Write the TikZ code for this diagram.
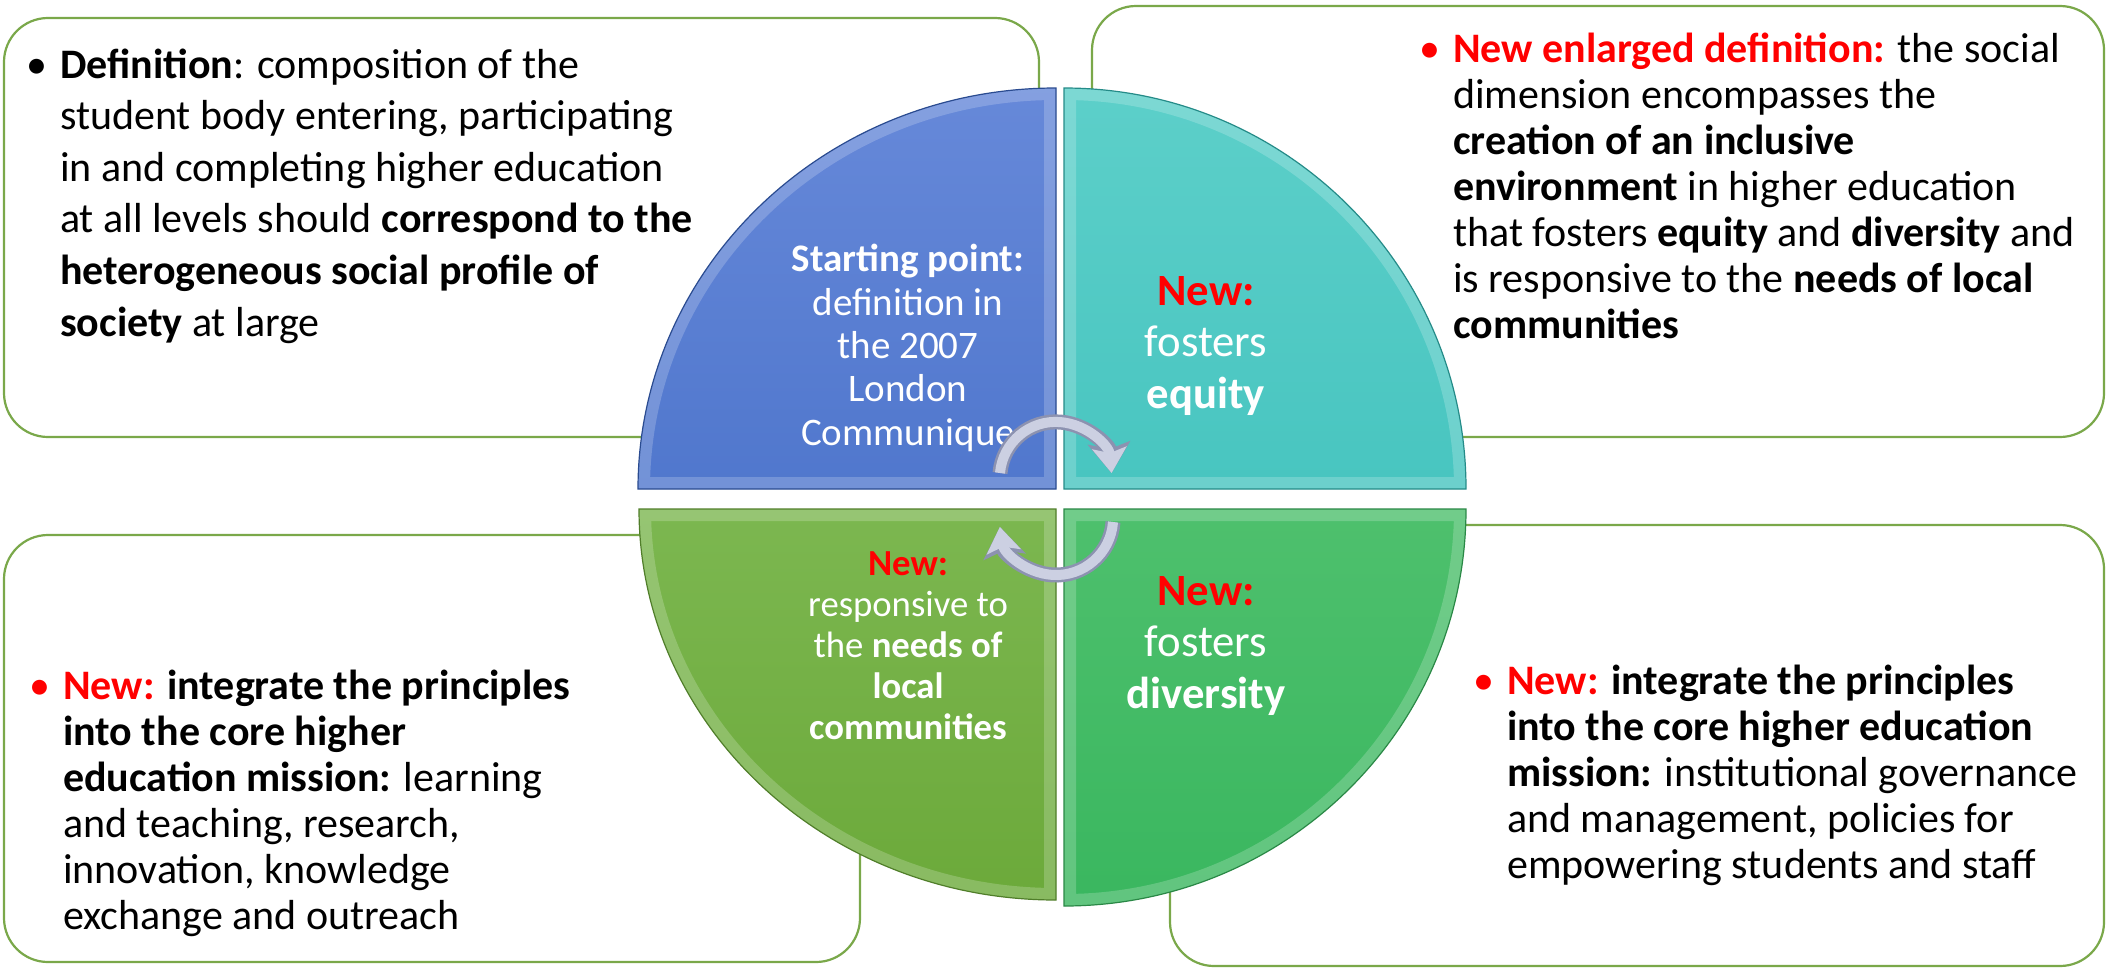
\documentclass[tikz,border=0pt]{standalone}
\usepackage{fontspec}
\setmainfont{Carlito}
\usetikzlibrary{arrows.meta, positioning}
\definecolor{boxgreen}{RGB}{122,168,74}
\definecolor{newred}{RGB}{255,0,0}
\definecolor{bluetop}{RGB}{104,138,218}
\definecolor{bluebot}{RGB}{56,100,192}
\definecolor{tealtop}{RGB}{94,208,202}
\definecolor{tealbot}{RGB}{50,186,182}
\definecolor{limetop}{RGB}{142,198,104}
\definecolor{limebot}{RGB}{106,168,56}
\definecolor{greentop}{RGB}{100,202,124}
\definecolor{greenbot}{RGB}{56,182,94}
\definecolor{arrowfill}{RGB}{204,208,226}
\definecolor{arrowedge}{RGB}{140,146,176}
\tikzset{>=Stealth}

\begin{document}
\begin{tikzpicture}[x=1pt, y=-1pt,
    panel/.style={draw=boxgreen, line width=2.2pt, rounded corners=44pt, fill=white, inner sep=0pt},
    boxtext/.style={anchor=base west, align=left, inner sep=0pt, font=\fontsize{42}{46}\selectfont},
    bulletmark/.style={anchor=base east, inner sep=0pt, font=\fontsize{42}{46}\selectfont},
    quadtext/.style={align=center, text=white, inner sep=0pt},
    spinedge/.style={line width=15pt, draw=arrowedge, -{Stealth[length=30pt, width=42pt, inset=6pt]}},
    spinfill/.style={line width=10pt, draw=arrowfill, -{Stealth[length=25pt, width=34pt, inset=5pt]}}]

  \useasboundingbox (0,0) rectangle (2111,977);
  \fill[white] (0,0) rectangle (2111,977);

  % the four boxes behind the circle
  \node[panel, minimum width=1035pt, minimum height=419pt] (defbox) at (521.5,227.5) {};
  \node[panel, minimum width=1012pt, minimum height=431pt] (enlbox) at (1598,221.5) {};
  \node[panel, minimum width=856pt, minimum height=427pt] (teachbox) at (432,748.5) {};
  \node[panel, minimum width=934pt, minimum height=441pt] (govbox) at (1637,745.5) {};

  % box texts (base = last line)
  \node[boxtext, font=\fontsize{42}{51.6}\selectfont] (deftext) at (60,336)
    {\textbf{Definition}: composition of the\\
     student body entering, participating\\
     in and completing higher education\\
     at all levels should \textbf{correspond to the}\\
     \textbf{heterogeneous social profile of}\\
     \textbf{society} at large};
  \node[bulletmark] (defdot) at (48,78) {\textbullet};

  \node[boxtext] (enltext) at (1453,338)
    {\textcolor{newred}{\textbf{New enlarged definition:}} the social\\
     dimension encompasses the\\
     \textbf{creation of an inclusive}\\
     \textbf{environment} in higher education\\
     that fosters \textbf{equity} and \textbf{diversity} and\\
     is responsive to the \textbf{needs of local}\\
     \textbf{communities}};
  \node[bulletmark, text=newred] (enldot) at (1441,62) {\textbullet};

  \node[boxtext] (teachtext) at (63,929)
    {\textcolor{newred}{\textbf{New:}} \textbf{integrate the principles}\\
     \textbf{into the core higher}\\
     \textbf{education mission:} learning\\
     and teaching, research,\\
     innovation, knowledge\\
     exchange and outreach};
  \node[bulletmark, text=newred] (teachdot) at (51,699) {\textbullet};

  \node[boxtext] (govtext) at (1507,878)
    {\textcolor{newred}{\textbf{New:}} \textbf{integrate the principles}\\
     \textbf{into the core higher education}\\
     \textbf{mission:} institutional governance\\
     and management, policies for\\
     empowering students and staff};
  \node[bulletmark, text=newred] (govdot) at (1495,694) {\textbullet};

  % the circle in four quarters
  \foreach \cx/\cy/\sa/\ea/\rx/\ry/\ctop/\cbot in
      {1056/489/180/270/418/401/bluetop/bluebot,
       1064/489/270/360/402/401/tealtop/tealbot,
       1056/509/180/90/417/391/limetop/limebot,
       1064/509/0/90/402/397/greentop/greenbot}
  {
    \begin{scope}
      \clip (\cx,\cy) -- ++({\rx*cos(\sa)},{\ry*sin(\sa)})
        arc[start angle=\sa, end angle=\ea, x radius=\rx, y radius=\ry] -- cycle;
      \shade[top color=\ctop, bottom color=\cbot] (\cx-430,\cy-430) rectangle (\cx+430,\cy+430);
      \draw[white, opacity=0.2, line width=24pt] (\cx,\cy) -- ++({\rx*cos(\sa)},{\ry*sin(\sa)})
        arc[start angle=\sa, end angle=\ea, x radius=\rx, y radius=\ry] -- cycle;
    \end{scope}
    \draw[\cbot!75!black, line width=1.2pt] (\cx,\cy) -- ++({\rx*cos(\sa)},{\ry*sin(\sa)})
      arc[start angle=\sa, end angle=\ea, x radius=\rx, y radius=\ry] -- cycle;
  }

  % texts in the quarters
  \node[quadtext, font=\fontsize{39}{43.3}\selectfont] (startq) at (908,348)
    {\textbf{Starting point:}\\ definition in\\ the 2007\\ London\\ Communique};
  \node[quadtext, font=\fontsize{44.7}{51.5}\selectfont] (equityq) at (1206,346)
    {\textcolor{newred}{\textbf{New:}}\\ fosters\\ \textbf{equity}};
  \node[quadtext, font=\fontsize{36.7}{41}\selectfont] (localq) at (908,646)
    {\textcolor{newred}{\textbf{New:}}\\ responsive to\\ the \textbf{needs of}\\ \textbf{local}\\ \textbf{communities}};
  \node[quadtext, font=\fontsize{44.7}{51.5}\selectfont] (diversq) at (1206,646)
    {\textcolor{newred}{\textbf{New:}}\\ fosters\\ \textbf{diversity}};

  % cycle arrows in the middle
  \coordinate (spinA) at (1000,473);
  \coordinate (spinB) at (1113,522);
  \draw[spinedge] (spinA) arc[start angle=185, end angle=355, radius=56];
  \draw[spinfill] (spinA) arc[start angle=185, end angle=355, radius=56];
  \draw[spinedge] (spinB) arc[start angle=4, end angle=171, radius=57];
  \draw[spinfill] (spinB) arc[start angle=4, end angle=171, radius=57];
\end{tikzpicture}
\end{document}
